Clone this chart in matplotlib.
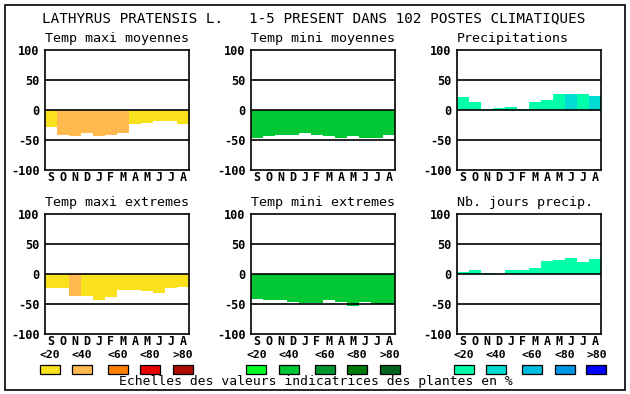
import matplotlib
matplotlib.use("Agg")
import matplotlib.pyplot as plt
from matplotlib.patches import Rectangle

W, H = 630, 394

months = ["S", "O", "N", "D", "J", "F", "M", "A", "M", "J", "J", "A"]
yticks = [100, 50, 0, -50, -100]
legend_labels = ["<20", "<40", "<60", "<80", ">80"]
title = "LATHYRUS PRATENSIS L.   1-5 PRESENT DANS 102 POSTES CLIMATIQUES"
footer = "Echelles des valeurs indicatrices des plantes en %"

warm = ["#f9e11b", "#ffb94f", "#ff7f00", "#e80000", "#b00c00"]
green = ["#00ff22", "#00c834", "#00962e", "#007a0a", "#006420"]
blue = ["#00ffaa", "#00dcd0", "#00bce0", "#0096e6", "#0000ff"]

tmax_moy = [-28, -41, -43, -38, -44, -41, -38, -23, -21, -18, -18, -24]
tmax_moy_cls = [0, 1, 1, 1, 1, 1, 1, 0, 0, 0, 0, 0]
tmin_moy = [-46, -44, -41, -41, -38, -41, -43, -46, -43, -46, -46, -41]
tmin_moy_cls = [1] * 12
precip = [22, 14, 2, 3, 5, 2, 14, 16, 27, 27, 27, 23]
precip_cls = [0, 0, 0, 0, 0, 0, 0, 0, 0, 1, 0, 1]
tmax_ext = [-24, -24, -36, -36, -43, -38, -26, -26, -28, -31, -24, -21]
tmax_ext_cls = [0, 0, 1, 0, 0, 0, 0, 0, 0, 0, 0, 0]
tmin_ext = [-42, -44, -44, -46, -48, -48, -43, -46, -53, -46, -50, -50]
tmin_ext_cls = [1] * 12
nb_jours = [3, 7, 2, 0, 7, 7, 10, 22, 23, 27, 20, 25]
nb_jours_cls = [0] * 12

panels = [
    ("Temp maxi moyennes", tmax_moy, tmax_moy_cls, warm, 45, 50),
    ("Temp mini moyennes", tmin_moy, tmin_moy_cls, green, 251, 50),
    ("Precipitations", precip, precip_cls, blue, 457, 50),
    ("Temp maxi extremes", tmax_ext, tmax_ext_cls, warm, 45, 214),
    ("Temp mini extremes", tmin_ext, tmin_ext_cls, green, 251, 214),
    ("Nb. jours precip.", nb_jours, nb_jours_cls, blue, 457, 214),
]

MONO = "DejaVu Sans Mono"
fig = plt.figure(figsize=(W / 100, H / 100), dpi=100)

def px_axes(x0, y0, w, h):
    return fig.add_axes([x0 / W, 1 - (y0 + h) / H, w / W, h / H])

# outer frame
frame = fig.add_axes([0, 0, 1, 1])
frame.set_xlim(0, W)
frame.set_ylim(H, 0)
frame.axis("off")
frame.add_patch(Rectangle((4.5, 4.5), 620, 385, fill=False, edgecolor="black", lw=1.2))
frame.text(314, 18, title, ha="center", va="center", family=MONO, fontsize=10.3)
frame.text(316, 382, footer, ha="center", va="center", family=MONO, fontsize=9.4)

# legends
legend_x = [
    [39.6, 71.9, 108.2, 140.1, 172.5],
    [246.4, 278.7, 315.0, 347.3, 379.6],
    [453.6, 485.9, 522.2, 554.5, 586.4],
]
for xs, pal in zip(legend_x, [warm, green, blue]):
    for x, c, lab in zip(xs, pal, legend_labels):
        frame.add_patch(Rectangle((x, 365), 20, 8.5, facecolor=c, edgecolor="black", lw=0.9))
        frame.text(x + 10, 355, lab, ha="center", va="center", family=MONO,
                   fontweight="bold", fontsize=8.2)

for name, vals, cls, pal, x0, y0 in panels:
    ax = px_axes(x0, y0, 144, 120)
    xs = list(range(len(vals)))
    ax.bar(xs, vals, width=1.0, align="edge", color=[pal[c] for c in cls],
           linewidth=0, zorder=1)
    for g in (50, 0, -50):
        ax.axhline(g, color="black", lw=1.2, zorder=3)
    ax.set_xlim(0, 12)
    ax.set_ylim(-100, 100)
    ax.set_yticks(yticks)
    ax.set_yticklabels([str(v) for v in yticks], family=MONO, fontweight="bold", fontsize=8.6)
    ax.set_xticks([i + 0.5 for i in xs])
    ax.set_xticklabels(months, family=MONO, fontweight="bold", fontsize=8.4)
    ax.tick_params(axis="y", length=0, pad=4)
    ax.tick_params(axis="x", length=0, pad=1)
    for s in ax.spines.values():
        s.set_linewidth(1.2)
        s.set_color("black")
        s.set_zorder(4)
    frame.text(x0, y0 - 12, name, ha="left", va="center", family=MONO, fontsize=9.6)

fig.savefig("out.png", dpi=100)
